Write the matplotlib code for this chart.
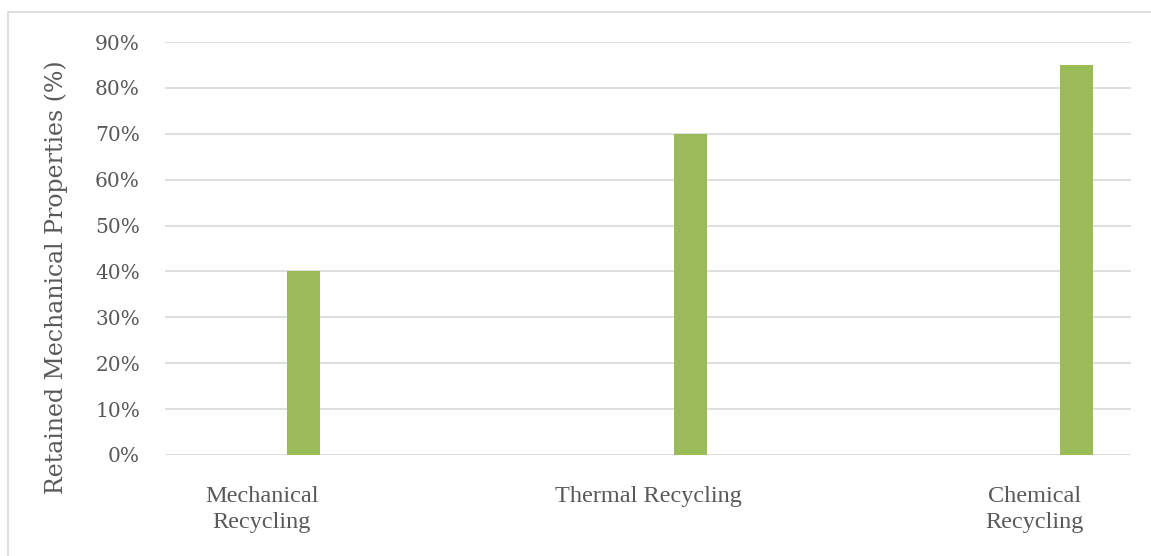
import matplotlib
matplotlib.use("Agg")
import matplotlib.pyplot as plt
from matplotlib.patches import Rectangle
from matplotlib.ticker import PercentFormatter

categories = ["Mechanical\nRecycling", "Thermal Recycling", "Chemical\nRecycling"]
retained = [0.40, 0.70, 0.85]
yticks = [0.0, 0.1, 0.2, 0.3, 0.4, 0.5, 0.6, 0.7, 0.8, 0.9]

text_col = "#595959"
bar_col = "#9BBB59"
grid_col = "#D9D9D9"

fig = plt.figure(figsize=(11.51, 5.56), dpi=100)
ax = fig.add_axes([165 / 1151, 1 - 455 / 556, 966 / 1151, 413 / 556])

# frame around the chart (only top/left visible in the crop)
fig.patches.append(Rectangle((8 / 1151, -0.1), 1.2, 1 - 12 / 556 + 0.1,
                             transform=fig.transFigure, fill=False,
                             edgecolor=grid_col, linewidth=1.2))

x = list(range(len(categories)))
# bar sits right of the category centre, like a clustered bar with one filled series
offset = 0.109
ax.bar([i + offset for i in x], retained, width=0.0855, color=bar_col, zorder=3)

ax.set_xlim(-0.25, 2.25)
ax.set_ylim(0, 0.9)
ax.set_yticks(yticks)
ax.yaxis.set_major_formatter(PercentFormatter(1.0, decimals=0))
ax.set_xticks(x)
ax.set_xticklabels(categories, family="Liberation Serif", fontsize=17.5, color=text_col,
                   linespacing=1.33)
for lab in ax.get_yticklabels():
    lab.set_family("DejaVu Serif")
    lab.set_fontsize(14.5)
    lab.set_color(text_col)

ax.tick_params(axis="both", length=0)
ax.tick_params(axis="x", pad=22)
ax.tick_params(axis="y", pad=18)
ax.grid(axis="y", color=grid_col, linewidth=1.2, zorder=0)
for s in ax.spines.values():
    s.set_visible(False)

ax.set_ylabel("Retained Mechanical Properties (%)", family="DejaVu Serif",
              fontsize=17, color=text_col)
ax.yaxis.set_label_coords(-0.1, 0.43)

fig.savefig("out.png", dpi=100)
